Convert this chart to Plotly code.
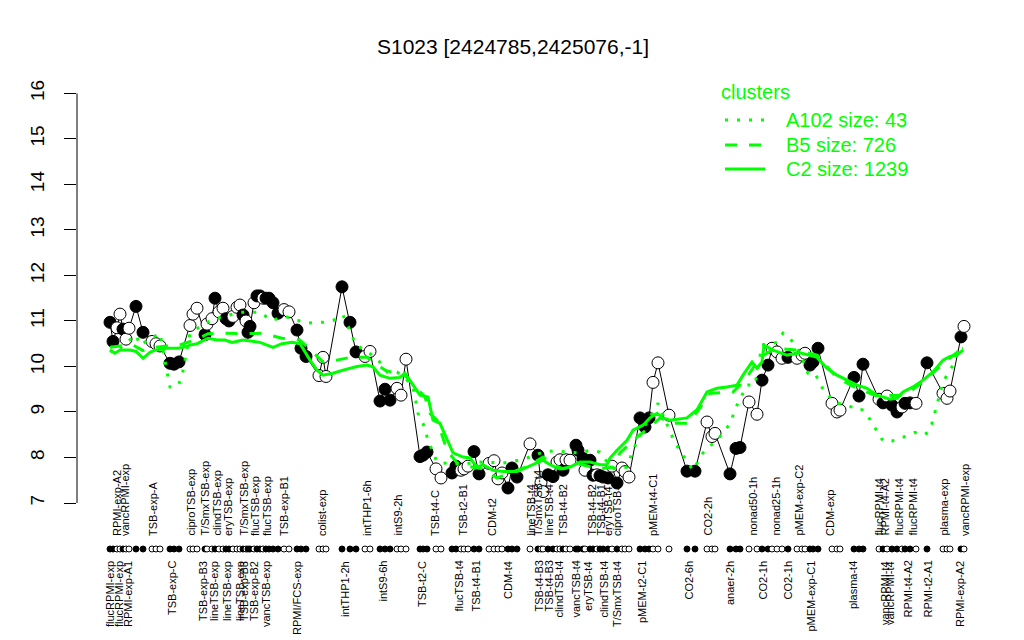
import plotly.graph_objects as go

# ---------------- data ----------------
pos = [110, 113, 117, 120, 123, 126, 129, 136, 143, 152, 156, 160, 170, 174, 179,
       190, 193, 197, 205, 207, 212, 215, 219, 223, 226, 229, 233, 237, 240, 243,
       246, 248, 250, 254, 257, 260, 263, 266, 269, 273, 278, 284, 289, 297, 301,
       306, 319, 323, 326, 342, 350, 356, 365, 370, 380, 385, 390, 397, 401, 406,
       420, 423, 427, 436, 441, 452, 456, 461, 464, 468, 474, 479, 489, 494, 498,
       502, 508, 512, 517, 530, 538, 541, 543, 548, 553, 557, 560, 563, 566, 570,
       576, 578, 583, 585, 590, 593, 597, 600, 603, 608, 612, 617, 622, 625, 629,
       640, 645, 649, 653, 658, 669, 687, 695, 707, 712, 715, 730, 736, 740, 749,
       757, 762, 768, 772, 777, 782, 788, 797, 802, 805, 810, 813, 818, 832, 837,
       840, 854, 859, 863, 879, 883, 887, 892, 897, 902, 905, 910, 916, 927, 943,
       947, 950, 961, 964]
expr = [10.97, 10.55, 10.85, 11.15, 10.82, 10.60, 10.84, 11.32, 10.75, 10.55, 10.50, 10.45, 10.07, 10.05, 10.10,
        10.90, 11.15, 11.28, 10.70, 10.93, 11.05, 11.50, 11.20, 11.28, 11.05, 11.00, 11.10, 11.30, 11.35, 11.13,
        11.00, 10.75, 10.88, 11.40, 11.55, 11.55, 11.50, 11.50, 11.50, 11.40, 11.17, 11.25, 11.20, 10.80, 10.40,
        10.22, 9.80, 10.20, 9.78, 11.75, 10.97, 10.32, 10.22, 10.33, 9.24, 9.50, 9.26, 9.52, 9.37, 10.16,
        8.02, 8.05, 8.12, 7.75, 7.55, 7.66, 7.81, 7.72, 7.75, 7.81, 8.13, 7.64, 7.87, 7.93, 7.53,
        7.66, 7.33, 7.77, 7.57, 8.30, 8.05, 7.45, 7.25, 7.62, 7.58, 7.90, 7.95, 7.72, 7.95, 7.94,
        8.27, 8.16, 7.98, 7.72, 7.94, 7.61, 7.62, 7.60, 7.57, 7.55, 7.81, 7.44, 7.77, 7.69, 7.57,
        8.87, 8.67, 8.87, 9.65, 10.08, 8.93, 7.70, 7.70, 8.78, 8.46, 8.53, 7.64, 8.20, 8.22, 9.22,
        8.95, 9.70, 10.03, 10.40, 10.32, 10.18, 10.20, 10.18, 10.25, 10.29, 10.03, 10.10, 10.40, 9.19, 9.00,
        9.04, 9.76, 9.35, 10.05, 9.28, 9.20, 9.35, 9.15, 9.00, 9.11, 9.19, 9.20, 9.19, 10.08, 9.41,
        9.30, 9.46, 10.65, 10.88]
filled = [1, 1, 0, 0, 1, 0, 0, 1, 1, 0, 0, 0, 1, 1, 1,
          0, 0, 0, 1, 0, 0, 1, 0, 0, 1, 1, 0, 0, 0, 1,
          0, 1, 1, 0, 1, 1, 0, 1, 1, 1, 1, 0, 0, 1, 1,
          1, 0, 0, 0, 1, 1, 1, 0, 0, 1, 1, 1, 0, 0, 0,
          1, 1, 1, 0, 0, 1, 1, 0, 0, 0, 1, 1, 0, 0, 0,
          0, 1, 1, 1, 0, 1, 0, 0, 1, 1, 0, 0, 1, 0, 0,
          1, 1, 1, 0, 1, 1, 0, 1, 1, 1, 0, 1, 0, 0, 0,
          1, 1, 1, 0, 0, 0, 1, 1, 0, 0, 0, 1, 1, 1, 0,
          0, 1, 1, 0, 0, 0, 1, 0, 0, 0, 1, 1, 1, 0, 0,
          0, 1, 1, 1, 0, 1, 0, 1, 1, 0, 1, 1, 0, 1, 0,
          0, 0, 1, 0]

# cluster profiles (green)
c2_pos = [110, 115, 120, 130, 136, 143, 150, 155, 167, 177, 183, 190, 197, 208, 217, 225, 232, 243, 260, 273,
          282, 292, 300, 310, 317, 323, 333, 343, 357, 367, 373, 380, 390, 400, 405, 413, 420, 428, 433, 440,
          447, 453, 463, 470, 477, 483, 493, 503, 517, 527, 537, 543, 550, 560, 570, 580, 590, 600, 607, 610,
          617, 627, 633, 643, 650, 657, 663, 670, 687, 697, 707, 717, 727, 737, 743, 752, 757, 762, 764, 773,
          787, 800, 817, 827, 837, 847, 857, 867, 877, 890, 897, 903, 913, 923, 933, 943, 950, 957, 963]
c2_val = [10.36, 10.29, 10.36, 10.36, 10.33, 10.18, 10.31, 10.36, 10.40, 10.40, 10.42, 10.47, 10.50, 10.62, 10.58,
          10.58, 10.53, 10.58, 10.53, 10.42, 10.50, 10.53, 10.50, 10.14, 9.92, 9.81, 9.85, 9.92, 10.00, 10.03,
          9.99, 9.81, 9.74, 9.76, 9.85, 9.59, 9.37, 9.33, 8.82, 8.75, 8.38, 8.10, 8.01, 7.99, 7.79, 7.84,
          7.72, 7.69, 7.69, 7.79, 7.88, 7.94, 7.84, 7.75, 7.79, 7.90, 7.90, 7.84, 7.84, 7.99, 8.16, 8.38,
          8.60, 8.71, 8.87, 8.97, 8.87, 8.82, 8.87, 9.05, 9.44, 9.52, 9.55, 9.59, 9.81, 10.10, 9.96, 10.10,
          10.47, 10.36, 10.25, 10.30, 10.20, 9.96, 9.81, 9.70, 9.59, 9.52, 9.37, 9.28, 9.30, 9.44, 9.55,
          9.70, 9.88, 10.14, 10.22, 10.25, 10.36]
b5_pos = [110, 120, 133, 143, 155, 167, 177, 190, 197, 208, 225, 243, 263, 282, 300, 313, 323, 337, 350, 367,
          385, 395, 405, 413, 425, 430, 437, 447, 457, 470, 483, 497, 510, 527, 543, 553, 563, 580, 600, 613,
          620, 637, 650, 660, 672, 687, 697, 710, 733, 745, 760, 775, 797, 817, 837, 857, 877, 900, 910, 930,
          945, 957, 962]
b5_val = [10.42, 10.45, 10.47, 10.35, 10.42, 10.45, 10.45, 10.55, 10.60, 10.72, 10.73, 10.72, 10.73, 10.62, 10.58,
          10.31, 10.10, 10.14, 10.20, 10.20, 9.92, 9.85, 9.80, 9.60, 9.33, 8.97, 8.82, 8.16, 7.88, 7.80,
          7.75, 7.55, 7.66, 7.80, 8.01, 7.85, 7.75, 7.85, 7.75, 7.79, 8.10, 8.45, 8.67, 8.87, 8.75, 8.75,
          9.00, 9.41, 9.44, 9.70, 10.20, 10.40, 10.36, 10.25, 9.75, 9.52, 9.35, 9.37, 9.44, 9.80, 10.10,
          10.31, 10.42]
a102_pos = [110, 115, 125, 136, 140, 150, 160, 168, 170, 178, 182, 190, 205, 220, 240, 260, 272, 285, 300, 307,
            315, 323, 333, 343, 351, 355, 365, 377, 387, 397, 405, 413, 418, 423, 428, 437, 443, 460, 480, 503,
            515, 527, 543, 555, 567, 580, 590, 600, 612, 627, 633, 645, 658, 670, 675, 693, 703, 715, 723, 730,
            737, 747, 755, 762, 777, 783, 790, 800, 808, 815, 820, 825, 838, 848, 857, 862, 867, 872, 878, 883,
            892, 900, 907, 915, 923, 928, 932, 935, 943, 948, 953, 958, 963]
a102_val = [10.35, 10.30, 10.50, 10.69, 10.47, 10.60, 10.73, 9.77, 9.55, 9.57, 9.79, 10.73, 10.95, 11.08, 11.19,
            11.19, 11.01, 11.10, 11.00, 10.95, 10.97, 10.97, 11.01, 11.13, 10.75, 10.50, 10.35, 10.18, 9.88, 9.88,
            9.75, 9.55, 8.97, 8.75, 8.38, 7.90, 7.88, 7.85, 7.90, 7.88, 7.92, 7.99, 8.12, 8.15, 8.12, 8.10,
            8.16, 8.12, 7.75, 7.79, 8.16, 8.70, 9.19, 8.60, 8.32, 7.72, 8.10, 8.35, 8.53, 8.75, 9.15, 9.59,
            9.60, 10.47, 10.53, 10.73, 10.62, 10.30, 9.85, 9.85, 9.63, 9.41, 9.19, 9.15, 9.04, 9.05, 8.95,
            8.75, 8.55, 8.36, 8.36, 8.43, 8.47, 8.55, 8.49, 8.55, 8.75, 9.00, 9.66, 9.85, 10.03, 10.36, 10.40]

upper_labels = ["RPMI-exp-A2", "vancRPMI-exp", "TSB-exp-A", "ciproTSB-exp", "T/SmxTSB-exp", "clindTSB-exp",
                "eryTSB-exp", "T/SmxTSB-exp", "flucTSB-exp", "flucTSB-exp", "TSB-exp-B1", "colist-exp",
                "intTHP1-6h", "intS9-2h", "TSB-t4-C", "TSB-t2-B1", "CDM-t2", "lineTSB-t4", "T/SmxTSB-t4",
                "lineTSB-t4", "TSB-t4-B2", "TSB-t4-B2", "TSB-t4-B1", "eryTSB-t4", "ciproTSB-t4", "pMEM-t4-C1",
                "CO2-2h", "nonad50-1h", "nonad25-1h", "pMEM-exp-C2", "CDM-exp", "flucRPMI-t4", "RPMI-t4-A2",
                "flucRPMI-t4", "flucRPMI-t4", "plasma-exp", "vancRPMI-exp"]
upper_pos = [117, 125, 153, 190, 204, 216, 228, 243, 255, 267, 284, 322,
             367, 397, 435, 462, 492, 530, 538, 548, 562, 591, 600, 608, 617, 653,
             707, 752, 775, 798, 830, 878, 884, 898, 912, 943, 965]
lower_labels = ["flucRPMI-exp", "flucRPMI-exp", "RPMI-exp-A1", "TSB-exp-C", "TSB-exp-B3", "lineTSB-exp",
                "lineTSB-exp", "lineTSB-exp", "TSB-exp-B3", "TSB-exp-B2", "vancTSB-exp", "RPMI/FCS-exp",
                "intTHP1-2h", "intS9-6h", "TSB-t2-C", "flucTSB-t4", "TSB-t4-B1", "CDM-t4", "TSB-t4-B3",
                "TSB-t4-B3", "clindTSB-t4", "vancTSB-t4", "eryTSB-t4", "clindTSB-t4", "T/SmxTSB-t4",
                "pMEM-t2-C1", "CO2-6h", "anaer-2h", "CO2-1h", "CO2-1h", "pMEM-exp-C1", "plasma-t4",
                "vancRPMI-t4", "vancRPMI-t4", "RPMI-t4-A2", "RPMI-t2-A1", "RPMI-exp-A2"]
lower_pos = [110, 119, 128, 172, 203, 214, 227, 240, 244, 254, 266, 297,
             345, 382, 422, 458, 475, 508, 538, 548, 558, 575, 588, 603, 617,
             642, 688, 730, 762, 787, 810, 853, 885, 890, 907, 927, 960]

title_text = "S1023 [2424785,2425076,-1]"
legend_title = "clusters"
legend_names = ["A102 size: 43", "B5 size: 726", "C2 size: 1239"]
legend_dash = ["3px,9px", "12px,12px", "solid"]

# ---------------- layout helpers ----------------
W, H = 1024, 640
ML, MR, MT, MB = 77, 25, 77, 0
PH = H - MT - MB
GREEN = "#00FF00"
FONT = "Liberation Sans, Arial, Helvetica, sans-serif"


def paper_y(py):
    return (H - MB - py) / PH


fig = go.Figure()

fig.add_trace(go.Scatter(x=pos, y=expr, mode="lines",
                         line=dict(color="black", width=1), hoverinfo="skip"))
fig.add_trace(go.Scatter(x=pos, y=expr, mode="markers",
                         marker=dict(size=12, color=["black" if f else "white" for f in filled],
                                     line=dict(color="black", width=1))))
fig.add_trace(go.Scatter(x=a102_pos, y=a102_val, mode="lines",
                         line=dict(color=GREEN, width=3, dash=legend_dash[0])))
fig.add_trace(go.Scatter(x=b5_pos, y=b5_val, mode="lines",
                         line=dict(color=GREEN, width=3, dash=legend_dash[1])))
fig.add_trace(go.Scatter(x=c2_pos, y=c2_val, mode="lines",
                         line=dict(color=GREEN, width=3)))
# dot row of conditions
fig.add_trace(go.Scatter(x=pos, y=[0.5] * len(pos), yaxis="y2", mode="markers",
                         marker=dict(size=6, color=["black" if f else "white" for f in filled],
                                     line=dict(color="black", width=1)),
                         cliponaxis=False))

annotations = []
for lab, x in zip(upper_labels, upper_pos):
    annotations.append(dict(x=x, xref="x", y=paper_y(538), yref="paper", text=lab,
                            textangle=-90, showarrow=False, xanchor="center", yanchor="bottom",
                            font=dict(size=11, color="black", family=FONT)))
for lab, x in zip(lower_labels, lower_pos):
    annotations.append(dict(x=x, xref="x", y=paper_y(559), yref="paper", text=lab,
                            textangle=-90, showarrow=False, xanchor="center", yanchor="top",
                            font=dict(size=11, color="black", family=FONT)))

# legend
annotations.append(dict(x=719, xref="x", y=paper_y(92), yref="paper", text=legend_title,
                        showarrow=False, xanchor="left", yanchor="middle",
                        font=dict(size=20, color=GREEN, family=FONT)))
shapes = []
leg_y = [120, 145, 169]
for name, dash, ly in zip(legend_names, legend_dash, leg_y):
    annotations.append(dict(x=784, xref="x", y=paper_y(ly), yref="paper", text=name,
                            showarrow=False, xanchor="left", yanchor="middle",
                            font=dict(size=20, color=GREEN, family=FONT)))
    shapes.append(dict(type="line", xref="x", yref="paper", x0=725, x1=765,
                       y0=paper_y(ly), y1=paper_y(ly),
                       line=dict(color=GREEN, width=3, dash=dash)))

# y axis line only from 7 to 16 (R style)
shapes.append(dict(type="line", xref="paper", yref="y", x0=0, x1=0, y0=7, y1=16,
                   line=dict(color="black", width=1)))

fig.update_layout(
    width=W, height=H,
    margin=dict(l=ML, r=MR, t=MT, b=MB, pad=0),
    paper_bgcolor="white", plot_bgcolor="white",
    showlegend=False,
    title=dict(text=title_text, x=513 / W, xanchor="center", y=1 - 47 / H, yanchor="middle",
               font=dict(size=21, color="black", family=FONT)),
    xaxis=dict(range=[77, 999], visible=False, fixedrange=True),
    yaxis=dict(domain=[paper_y(519.4), 1], range=[6.64, 16.36], tickvals=list(range(7, 17)),
               ticks="outside", ticklen=12, tickcolor="black", tickwidth=1, tickangle=-90,
               showgrid=False, zeroline=False, showline=False, ticklabelstandoff=12,
               tickfont=dict(size=19, color="black", family=FONT)),
    yaxis2=dict(domain=[paper_y(560), paper_y(538)], range=[0, 1], visible=False),
    annotations=annotations,
    shapes=shapes,
)

fig.write_html("out.html", config={"displayModeBar": False},
               post_script="document.body.style.margin='0px';")
